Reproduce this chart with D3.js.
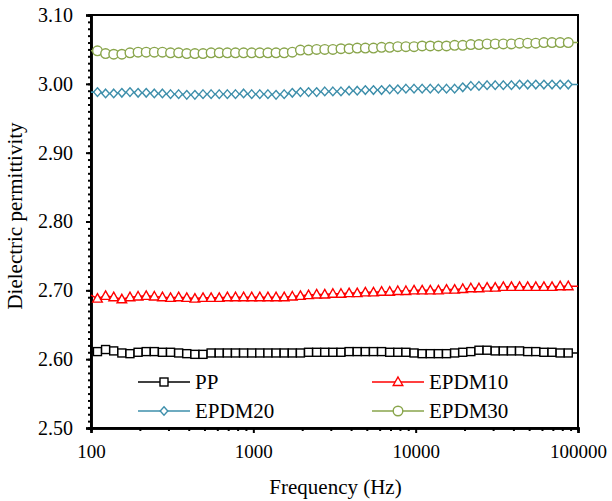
<html><head><meta charset="utf-8"><script src="https://cdn.jsdelivr.net/npm/d3@7"></script></head>
<body style="margin:0">
<script>
// frequencies (Hz); first and last points carry the line to the frame, no marker
var freqs = [100, 109.6, 123.0, 138.0, 154.9, 173.8, 195.0, 218.8, 245.5, 275.4, 309.0,
    346.7, 389.0, 436.5, 489.8, 549.5, 616.6, 691.8, 776.2, 871.0, 977.2,
    1096, 1230, 1380, 1549, 1738, 1950, 2188, 2455, 2754, 3090,
    3467, 3890, 4365, 4898, 5495, 6166, 6918, 7762, 8710, 9772,
    10965, 12303, 13804, 15488, 17378, 19498, 21878, 24547, 27542, 30903,
    34674, 38905, 43652, 48978, 54954, 61660, 69183, 77625, 87096, 100000];

var pp = [2.611, 2.611, 2.614, 2.612, 2.609, 2.608, 2.610, 2.611, 2.611, 2.610, 2.610,
    2.609, 2.608, 2.607, 2.607, 2.609, 2.609, 2.609, 2.609, 2.609, 2.609,
    2.609, 2.609, 2.609, 2.609, 2.609, 2.609, 2.610, 2.610, 2.610, 2.610,
    2.610, 2.611, 2.611, 2.611, 2.611, 2.611, 2.610, 2.610, 2.610, 2.609,
    2.608, 2.608, 2.608, 2.608, 2.609, 2.610, 2.611, 2.613, 2.613, 2.612,
    2.612, 2.612, 2.612, 2.611, 2.611, 2.610, 2.610, 2.609, 2.609, 2.609];

var epdm10 = [2.693, 2.688, 2.692, 2.690, 2.687, 2.690, 2.691, 2.692, 2.691, 2.690, 2.689,
    2.690, 2.689, 2.688, 2.689, 2.689, 2.689, 2.690, 2.690, 2.690, 2.690,
    2.690, 2.690, 2.690, 2.690, 2.691, 2.692, 2.693, 2.694, 2.694, 2.695,
    2.695, 2.696, 2.696, 2.697, 2.697, 2.698, 2.698, 2.699, 2.699, 2.700,
    2.700, 2.700, 2.700, 2.701, 2.701, 2.702, 2.703, 2.703, 2.704, 2.704,
    2.705, 2.705, 2.705, 2.705, 2.705, 2.705, 2.705, 2.706, 2.706, 2.706];

var epdm20 = [2.988, 2.988, 2.986, 2.986, 2.987, 2.988, 2.987, 2.987, 2.986, 2.986, 2.985,
    2.985, 2.984, 2.984, 2.985, 2.985, 2.985, 2.985, 2.985, 2.986, 2.985,
    2.985, 2.985, 2.984, 2.985, 2.987, 2.988, 2.988, 2.988, 2.989, 2.989,
    2.989, 2.990, 2.990, 2.991, 2.991, 2.991, 2.992, 2.992, 2.993, 2.993,
    2.993, 2.993, 2.993, 2.993, 2.993, 2.995, 2.997, 2.997, 2.998, 2.998,
    2.998, 2.998, 2.999, 2.999, 2.999, 2.999, 2.999, 2.999, 2.999, 2.999];

var epdm30 = [3.048, 3.048, 3.044, 3.043, 3.043, 3.045, 3.046, 3.046, 3.046, 3.046, 3.045,
    3.045, 3.044, 3.044, 3.044, 3.045, 3.045, 3.045, 3.045, 3.045, 3.045,
    3.045, 3.045, 3.045, 3.045, 3.046, 3.049, 3.049, 3.050, 3.050, 3.050,
    3.051, 3.051, 3.052, 3.052, 3.052, 3.053, 3.053, 3.054, 3.054, 3.054,
    3.055, 3.055, 3.055, 3.055, 3.056, 3.056, 3.057, 3.057, 3.058, 3.058,
    3.058, 3.058, 3.059, 3.059, 3.059, 3.060, 3.060, 3.060, 3.060, 3.060];

var seriesNames = ["PP", "EPDM10", "EPDM20", "EPDM30"];
var yTicks = [2.50, 2.60, 2.70, 2.80, 2.90, 3.00, 3.10];
var xTicks = [100, 1000, 10000, 100000];

var series = [
    {name: seriesNames[0], values: pp,     color: "#000000", marker: "square"},
    {name: seriesNames[1], values: epdm10, color: "#ff0000", marker: "triangle"},
    {name: seriesNames[2], values: epdm20, color: "#3e8fab", marker: "diamond"},
    {name: seriesNames[3], values: epdm30, color: "#89a54b", marker: "circle"}
];

var FONT = "Liberation Serif";

// layout
var W = 612, H = 501;
var margin = {top: 15, right: 34, bottom: 73, left: 91};
var width = W - margin.left - margin.right,
    height = H - margin.top - margin.bottom;

var x = d3.scaleLog().domain([100, 100000]).range([0, width]);
var y = d3.scaleLinear().domain([2.50, 3.10]).range([height, 0]);

var svg = d3.select("body").append("svg")
    .attr("width", W)
    .attr("height", H);

var g = svg.append("g")
    .attr("transform", "translate(" + margin.left + "," + margin.top + ")");

// frame (top and right)
g.append("rect")
    .attr("width", width).attr("height", height)
    .attr("fill", "none").attr("stroke", "#000").attr("stroke-width", 2);

// y ticks, minor every 0.01
var yMinor = d3.range(0, 61).map(function(i) { return 2.50 + i * 0.01; });
var yAxisMinor = d3.axisLeft(y).tickValues(yMinor).tickSize(3).tickFormat("");
var yAxis = d3.axisLeft(y).tickValues(yTicks).tickSize(5).tickPadding(13)
    .tickFormat(d3.format(".2f"));

var yg = g.append("g").call(yAxisMinor);
var yg2 = g.append("g").call(yAxis);

// x ticks (log minors)
var xMinor = [];
[100, 1000, 10000].forEach(function(d) {
    for (var k = 2; k <= 9; k++) xMinor.push(d * k);
});
var xAxisMinor = d3.axisBottom(x).tickValues(xMinor).tickSize(3).tickFormat("");
var xAxis = d3.axisBottom(x).tickValues(xTicks).tickSize(5).tickPadding(12)
    .tickFormat(d3.format("d"));

var xg = g.append("g").attr("transform", "translate(0," + height + ")").call(xAxisMinor);
var xg2 = g.append("g").attr("transform", "translate(0," + height + ")").call(xAxis);

[yg, yg2, xg, xg2].forEach(function(a) {
    a.attr("font-family", FONT).attr("font-size", 20);
    a.select(".domain").attr("stroke-width", 2.5);
    a.selectAll(".tick line").attr("stroke-width", 2);
    a.selectAll(".tick text").attr("fill", "#000");
});
xg2.attr("font-size", 19);

// axis titles
svg.append("text")
    .attr("x", margin.left + width / 2 + 1)
    .attr("y", 494)
    .attr("text-anchor", "middle")
    .attr("font-size", 21)
    .attr("font-family", FONT)
    .text("Frequency (Hz)");

svg.append("text")
    .attr("transform", "translate(22," + 216 + ") rotate(-90)")
    .attr("text-anchor", "middle")
    .attr("font-size", 21)
    .attr("font-family", FONT)
    .text("Dielectric permittivity");

// marker drawing
function drawMarker(sel, type, color) {
    if (type === "square") {
        sel.append("rect").attr("x", -4).attr("y", -4).attr("width", 8).attr("height", 8)
            .attr("fill", "#fff").attr("stroke", color).attr("stroke-width", 1.4);
    } else if (type === "triangle") {
        sel.append("path").attr("d", "M0,-5L4.8,3.5L-4.8,3.5Z")
            .attr("fill", "#fff").attr("stroke", color).attr("stroke-width", 1.4);
    } else if (type === "diamond") {
        sel.append("path").attr("d", "M0,-4.3L3.8,0L0,4.3L-3.8,0Z")
            .attr("fill", "#fff").attr("stroke", color).attr("stroke-width", 1.4);
    } else {
        sel.append("circle").attr("r", 4.8)
            .attr("fill", "#fff").attr("stroke", color).attr("stroke-width", 1.4);
    }
}

var line = d3.line()
    .x(function(d, i) { return x(freqs[i]); })
    .y(function(d) { return y(d); });

series.forEach(function(s) {
    var sg = g.append("g");
    sg.append("path")
        .attr("d", line(s.values))
        .attr("fill", "none")
        .attr("stroke", s.color)
        .attr("stroke-width", 1.6);

    var pts = s.values.map(function(v, i) { return {f: freqs[i], v: v}; })
        .slice(1, s.values.length - 1);
    sg.selectAll(".pt").data(pts).enter().append("g")
        .attr("transform", function(d) { return "translate(" + x(d.f) + "," + y(d.v) + ")"; })
        .each(function() { drawMarker(d3.select(this), s.marker, s.color); });
});

// legend
var legendPos = [
    {x: 138, y: 382}, {x: 372, y: 382},
    {x: 138, y: 411}, {x: 372, y: 411}
];
series.forEach(function(s, i) {
    var p = legendPos[i];
    var lg = svg.append("g").attr("transform", "translate(" + p.x + "," + p.y + ")");
    lg.append("line").attr("x1", 0).attr("x2", 52).attr("y1", 0).attr("y2", 0)
        .attr("stroke", s.color).attr("stroke-width", 1.6);
    var m = lg.append("g").attr("transform", "translate(26,0)");
    drawMarker(m, s.marker, s.color);
    lg.append("text").attr("x", 57).attr("y", 7)
        .attr("font-size", 21).attr("font-family", FONT).text(s.name);
});
</script>
</body></html>
